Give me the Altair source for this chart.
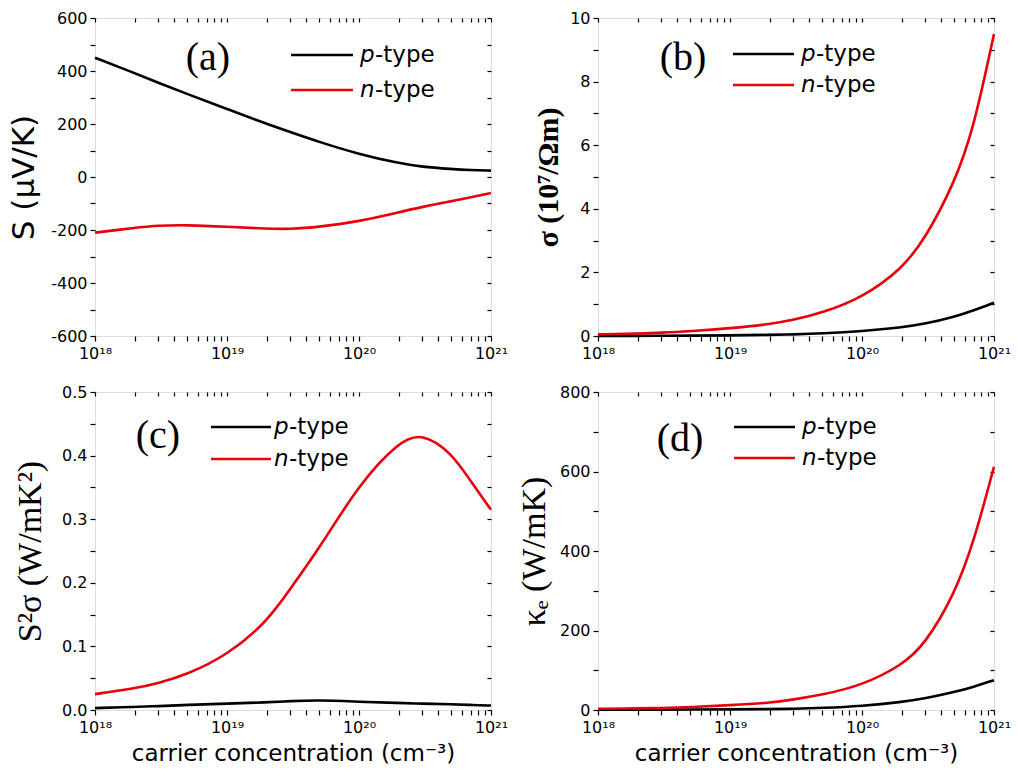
import altair as alt
import pandas as pd

# carrier concentration (cm^-3)
conc = [1e18, 2e18, 3e18, 5e18, 1e19, 2e19, 3e19, 5e19, 1e20, 2e20, 3e20, 5e20, 7e20, 1e21]

# (a) Seebeck coefficient (uV/K)
S_p = [450, 392, 356, 313, 257, 200, 170, 132, 86, 52, 38, 30, 26, 24]
S_n = [-210, -192, -183, -181, -188, -195, -197, -188, -168, -133, -113, -91, -77, -60]
# (b) electrical conductivity (10^7 / Ohm m)
sigma_p = [0.0, 0.005, 0.008, 0.012, 0.02, 0.035, 0.05, 0.08, 0.15, 0.27, 0.38, 0.6, 0.8, 1.05]
sigma_n = [0.05, 0.08, 0.1, 0.15, 0.24, 0.37, 0.5, 0.73, 1.2, 2.1, 3.05, 4.8, 6.5, 9.5]
# (c) power factor (W/mK^2)
PF_p = [0.003, 0.005, 0.006, 0.008, 0.010, 0.012, 0.014, 0.0155, 0.013, 0.011, 0.010, 0.009, 0.008, 0.007]
PF_n = [0.025, 0.034, 0.042, 0.056, 0.086, 0.138, 0.19, 0.254, 0.355, 0.422, 0.436, 0.405, 0.36, 0.315]
# (d) electronic thermal conductivity (W/mK)
ke_p = [0.5, 0.7, 0.9, 1.2, 1.5, 2.2, 3, 5, 10, 20, 29, 45, 58, 75]
ke_n = [3, 4, 5, 7, 12, 18, 26, 38, 62, 112, 165, 290, 420, 612]

types = ["p-type", "n-type"]
x_major = [1e18, 1e19, 1e20, 1e21]
x_major_labels = ["10¹⁸", "10¹⁹", "10²⁰", "10²¹"]
x_minor = [m * d for d in [1e18, 1e19, 1e20] for m in range(2, 10)]

RED = "#e8000b"
W, H = 396, 318
SANS = "DejaVu Sans"
SERIF = "Liberation Serif"


def x_label_expr():
    parts = [f"abs(datum.value / {v} - 1) < 0.001 ? '{l}'" for v, l in zip(x_major, x_major_labels)]
    return " : ".join(parts) + " : ''"


def y_label_expr(values, labels, eps):
    parts = [f"abs(datum.value - ({v})) < {eps} ? '{l}'" for v, l in zip(values, labels)]
    return " : ".join(parts) + " : ''"


def panel(vp, vn, ydom, ymaj, ylab, ymin, ytitle, tfont, tsize, tweight, tpad, tag, tag_xy, leg_x, leg_y, txt_x,
          xtitle):
    df = pd.DataFrame({
        "n": conc + conc,
        "v": vp + vn,
        "type": [types[0]] * len(conc) + [types[1]] * len(conc),
    })
    xs = alt.Scale(type="log", domain=[x_major[0], x_major[-1]])
    ys = alt.Scale(domain=ydom, nice=False, zero=False)
    eps = (ydom[1] - ydom[0]) / 1000.0
    xax_kw = dict(values=x_major + x_minor, labelExpr=x_label_expr(), tickSize=5, tickWidth=1.2,
                  tickColor="black", domain=False, grid=False, labelFont=SANS, labelFontSize=16,
                  labelColor="black", labelPadding=4, labelOverlap=False, labelFlush=False)
    if xtitle:
        xax_kw.update(title=xtitle, titleFont=SANS, titleFontSize=23, titleFontWeight="normal",
                      titleColor="black", titlePadding=7)
    xaxis = alt.Axis(**xax_kw)
    yaxis = alt.Axis(values=ymaj + ymin, labelExpr=y_label_expr(ymaj, ylab, eps), tickSize=5, tickWidth=1.2,
                     tickColor="black", domain=False, grid=False, labelFont=SANS, labelFontSize=16,
                     labelColor="black", labelPadding=3, labelOverlap=False, labelFlush=False,
                     title=ytitle, titleFont=tfont, titleFontSize=tsize, titleFontWeight=tweight,
                     titleColor="black", titlePadding=tpad)
    lines = alt.Chart(df).mark_line(strokeWidth=2.6, interpolate="basis").encode(
        x=alt.X("n:Q", scale=xs, axis=xaxis) if xtitle else alt.X("n:Q", scale=xs, axis=xaxis, title=None),
        y=alt.Y("v:Q", scale=ys, axis=yaxis),
        color=alt.Color("type:N", scale=alt.Scale(domain=types, range=["black", RED]), legend=None),
    )
    mirror = alt.Chart(df).mark_line(strokeOpacity=0).encode(
        x=alt.X("n:Q", scale=xs, title=None,
                axis=alt.Axis(orient="top", values=x_major + x_minor, labels=False, tickSize=4,
                              tickWidth=1.2, tickColor="black", offset=-4, domain=False, grid=False)),
        y=alt.Y("v:Q", scale=ys, title=None,
                axis=alt.Axis(orient="right", values=ymaj + ymin, labels=False, tickSize=4,
                              tickWidth=1.2, tickColor="black", offset=-4, domain=False, grid=False)),
        detail="type:N",
    )
    layers = [lines, mirror]
    one = pd.DataFrame({"k": [0]})
    for i, (t, col) in enumerate(zip(types, ["black", RED])):
        yy = leg_y[i]
        layers.append(alt.Chart(one).mark_rule(strokeWidth=2.6, color=col).encode(
            x=alt.value(leg_x[0]), x2=alt.value(leg_x[1]), y=alt.value(yy)))
        letter, rest = t.split("-", 1)
        layers.append(alt.Chart(one).mark_text(text=letter, font=SANS, fontSize=23, fontStyle="italic",
                                               align="left", baseline="middle", color="black").encode(
            x=alt.value(txt_x), y=alt.value(yy)))
        layers.append(alt.Chart(one).mark_text(text="-" + rest, font=SANS, fontSize=23,
                                               align="left", baseline="middle", color="black").encode(
            x=alt.value(txt_x + 15), y=alt.value(yy)))
    layers.append(alt.Chart(one).mark_text(text=tag, font=SERIF, fontSize=40, align="center",
                                           baseline="middle", color="black").encode(
        x=alt.value(tag_xy[0]), y=alt.value(tag_xy[1])))
    return alt.layer(*layers).resolve_axis(x="independent", y="independent").properties(width=W, height=H)


pa = panel(S_p, S_n, [-600, 600], [-600, -400, -200, 0, 200, 400, 600],
           ["-600", "-400", "-200", "0", "200", "400", "600"], [-500, -300, -100, 100, 300, 500],
           "S (μV/K)", SANS, 31, "normal", 10, "(a)", (113, 40), (196, 258), (37, 72), 265, None)
pb = panel(sigma_p, sigma_n, [0, 10], [0, 2, 4, 6, 8, 10], ["0", "2", "4", "6", "8", "10"],
           [1, 3, 5, 7, 9], "σ (10⁷/Ωm)", SERIF, 30, "bold", 6, "(b)", (85, 40), (135, 196), (36, 67), 203, None)
pc = panel(PF_p, PF_n, [0, 0.5], [0, 0.1, 0.2, 0.3, 0.4, 0.5], ["0.0", "0.1", "0.2", "0.3", "0.4", "0.5"],
           [0.05, 0.15, 0.25, 0.35, 0.45], "S²σ (W/mK²)", SERIF, 34, "normal", 14, "(c)", (63, 44), (116, 176),
           (35, 67), 179, "carrier concentration (cm⁻³)")
pd_ = panel(ke_p, ke_n, [0, 800], [0, 200, 400, 600, 800], ["0", "200", "400", "600", "800"],
            [100, 300, 500, 700], "κₑ (W/mK)", SERIF, 34, "normal", 8, "(d)", (82, 47), (136, 197), (35, 66), 204,
            "carrier concentration (cm⁻³)")

chart = alt.concat(pa, pb, pc, pd_, columns=2, spacing={"row": 21, "column": 7}).properties(
    padding={"left": 8, "top": 9, "right": 0, "bottom": 2}
).configure_view(stroke="black", strokeWidth=1.5).configure(background="white")

chart.save("out.html", embed_options={"renderer": "svg", "actions": False})
